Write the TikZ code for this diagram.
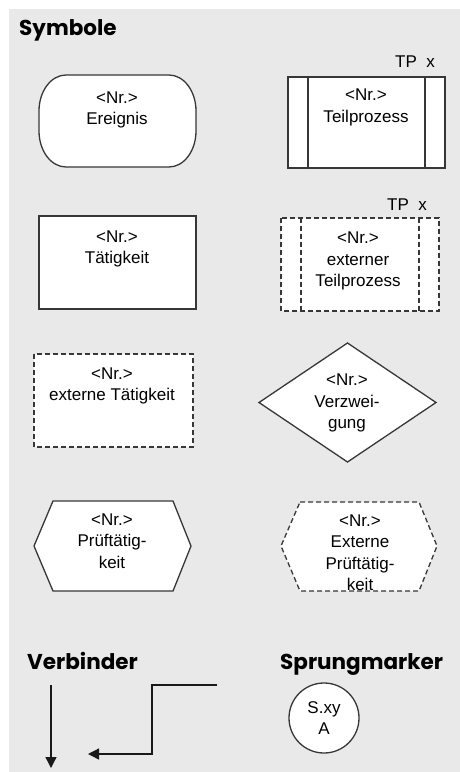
\documentclass[tikz,border=0pt]{standalone}
\usepackage{fontspec}
\setmainfont{Liberation Sans}
\newfontfamily\headfont{Poppins}
\usetikzlibrary{arrows.meta}
\definecolor{bggray}{RGB}{233,233,233}
\definecolor{edgegray}{RGB}{55,55,55}

\begin{document}
\begin{tikzpicture}[x=1pt, y=-1pt, >={Triangle[length=11pt,width=11pt]},
  shapeline/.style={draw=edgegray, line width=1.3pt, fill=white},
  extline/.style={shapeline, dash pattern=on 5pt off 3pt},
  connector/.style={draw=black!90, line width=1.3pt},
  symtext/.style={align=center, inner sep=0pt, font=\fontsize{17}{21.5}\selectfont},
  heading/.style={anchor=base west, inner sep=0pt, font=\headfont\bfseries\fontsize{21.5}{24}\selectfont},
  tplabel/.style={anchor=base east, inner sep=0pt, font=\fontsize{17}{20}\selectfont}]

% ------------------------------------------------------------------
% === PAGE AND BACKGROUND ==========================================
\useasboundingbox (0,0) rectangle (460,772);
\fill[bggray] (9,9) rectangle (460,772);

\node[heading] (symbole) at (19,35) {Symbole};

% --- corner radii of the event shape -------------------------------
\def\erx{27}
\def\ery{36}
\pgfmathsetmacro{\kx}{0.552*\erx}
\pgfmathsetmacro{\ky}{0.552*\ery}

% === Ereignis (rounded box) =======================================
\draw[shapeline]
  (39+\erx,75) -- (196-\erx,75)
  .. controls (196-\erx+\kx,75) and (196,75+\ery-\ky) .. (196,75+\ery)
  -- (196,167-\ery)
  .. controls (196,167-\ery+\ky) and (196-\erx+\kx,167) .. (196-\erx,167)
  -- (39+\erx,167)
  .. controls (39+\erx-\kx,167) and (39,167-\ery+\ky) .. (39,167-\ery)
  -- (39,75+\ery)
  .. controls (39,75+\ery-\ky) and (39+\erx-\kx,75) .. (39+\erx,75) -- cycle;
\node[symtext] (ereignis) at (117,110) {<Nr.>\\Ereignis};

% === Teilprozess (box with side bars) =============================
\draw[shapeline] (288,77) rectangle (445,168);
\draw[shapeline] (308,77) -- (308,168);
\draw[shapeline] (425,77) -- (425,168);
\node[tplabel] (tpOne) at (435,67) {TP\ \ x};
\node[symtext] (teilprozess) at (366,107.5) {<Nr.>\\Teilprozess};

% === Taetigkeit ===================================================
\draw[shapeline] (39,216) rectangle (196,309);
\node[symtext] (taetigkeit) at (117,249) {<Nr.>\\Tätigkeit};

% === externer Teilprozess (dashed) ================================
\draw[extline] (281,218) rectangle (439,311);
\draw[extline] (301,218) -- (301,311);
\draw[extline] (419,218) -- (419,311);
\node[tplabel] (tpTwo) at (427,210) {TP\ \ x};
\node[symtext] (extTeil) at (358,261) {<Nr.>\\externer\\Teilprozess};

% === externe Taetigkeit (dashed) ==================================
\draw[extline] (34,354) rectangle (193,447);
\node[symtext] (extTaetig) at (112,386) {<Nr.>\\externe Tätigkeit};

% === Verzweigung (diamond) ========================================
\draw[shapeline] (259,402.5) -- (347.5,343) -- (436,402.5) -- (347.5,462) -- cycle;
\node[symtext] (verzweigung) at (347,403) {<Nr.>\\Verzwei-\\gung};

% === Pruefaetigkeit (hexagon) =====================================
\draw[shapeline] (53,501) -- (173,501) -- (191,546) -- (173,591) -- (53,591) -- (34,546) -- cycle;
\node[symtext] (pruef) at (112,541) {<Nr.>\\Prüftätig-\\keit};

% === externe Pruefaetigkeit (dashed hexagon) ======================
\draw[extline] (300,502) -- (419,502) -- (437,546) -- (419,591) -- (300,591) -- (281,546) -- cycle;
\node[symtext] (extPruef) at (360,552.5) {<Nr.>\\Externe\\Prüftätig-\\keit};

% === Verbinder ====================================================
\node[heading] (verbinder) at (27,669) {Verbinder};

\coordinate (downTop) at (51,685);
\coordinate (downEnd) at (51,768);
\draw[connector,->] (downTop) -- (downEnd);

\coordinate (stepIn)  at (217,685);
\coordinate (stepOut) at (88,754);
\draw[connector,->] (stepIn) -- ++(-65,0) |- (stepOut);

% === Sprungmarker =================================================
\node[heading] (sprungmarker) at (280,669) {Sprungmarker};
\node[shapeline, circle, minimum size=70pt, symtext] (marker) at (324,718) {S.xy\\A};

\end{tikzpicture}
\end{document}
